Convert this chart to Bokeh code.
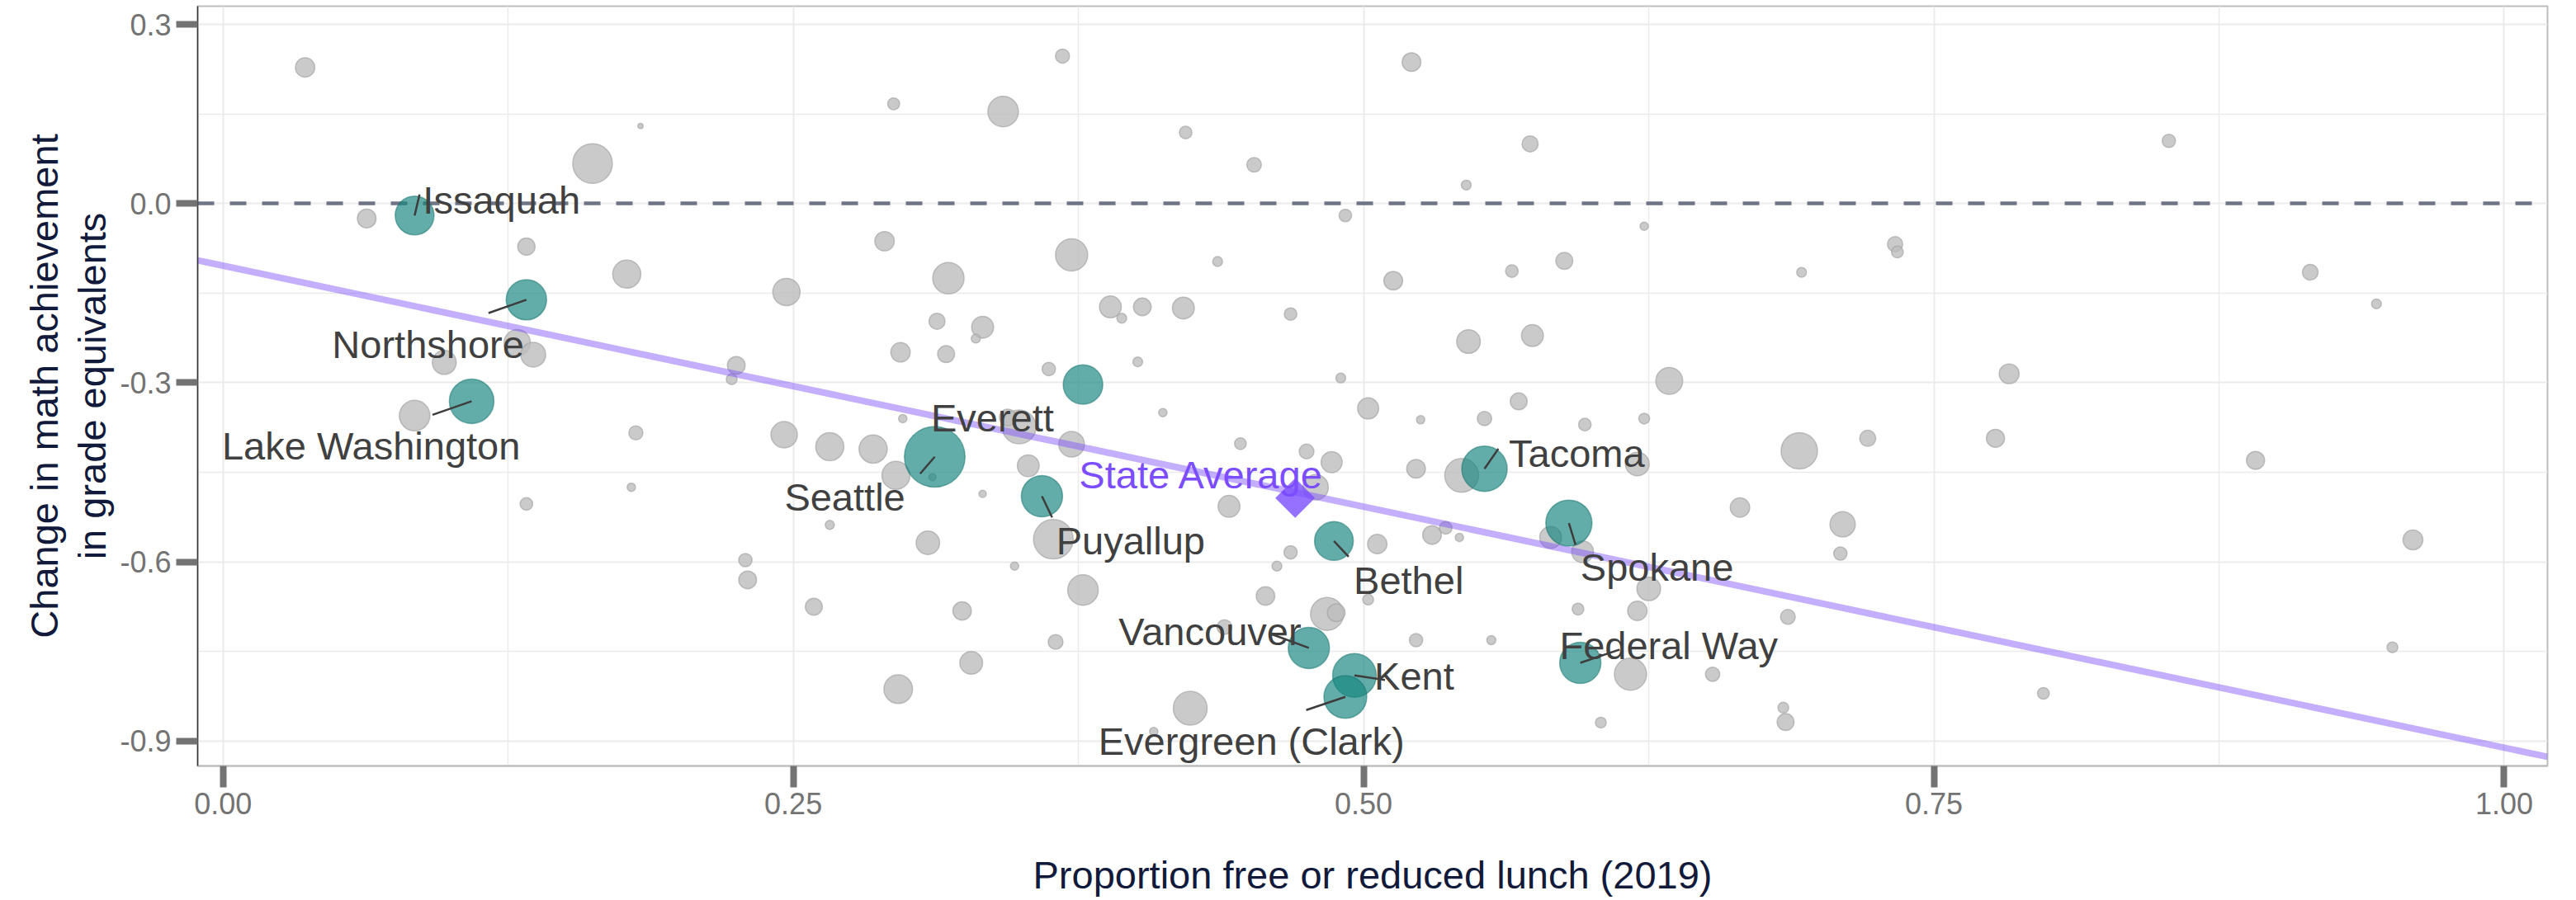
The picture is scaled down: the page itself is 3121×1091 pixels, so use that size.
import math
from bokeh.plotting import figure
from bokeh.models import FixedTicker, PrintfTickFormatter, Range1d, ColumnDataSource
from bokeh.core.properties import value
from bokeh.embed import file_html
from bokeh.resources import INLINE

# ---------------- data ----------------
# other districts: proportion FRL (2019), change in math (grade equivalents), enrollment (thousands)
frl = [0.036, 0.183, 0.162, 0.063, 0.133, 0.177, 0.129, 0.136, 0.097, 0.084,
       0.181, 0.179, 0.133, 0.368, 0.294, 0.342, 0.422, 0.452, 0.290, 0.372,
       0.436, 0.318, 0.247, 0.389, 0.394, 0.403, 0.421, 0.468, 0.313, 0.333,
       0.330, 0.297, 0.317, 0.401, 0.225, 0.223, 0.362, 0.412, 0.298, 0.349,
       0.344, 0.446, 0.372, 0.246, 0.266, 0.285, 0.295, 0.311, 0.333, 0.353,
       0.441, 0.364, 0.266, 0.309, 0.229, 0.230, 0.347, 0.468, 0.462, 0.377,
       0.259, 0.324, 0.457, 0.439, 0.365, 0.328, 0.296, 0.424, 0.408, 0.475,
       0.486, 0.479, 0.506, 0.523, 0.543, 0.620, 0.691, 0.721, 0.530, 0.536,
       0.542, 0.582, 0.596, 0.625, 0.665, 0.710, 0.709, 0.502, 0.484, 0.488,
       0.523, 0.556, 0.594, 0.620, 0.686, 0.617, 0.653, 0.604, 0.684, 0.685,
       0.521, 0.573, 0.545, 0.492, 0.623, 0.733, 0.734, 0.692, 0.565, 0.588,
       0.513, 0.546, 0.574, 0.634, 0.490, 0.502, 0.525, 0.553, 0.568, 0.597,
       0.623, 0.853, 0.915, 0.944, 0.783, 0.777, 0.891, 0.960, 0.951, 0.798]
change = [0.228, 0.130, 0.067, -0.025, -0.072, -0.118, -0.233, -0.253, -0.266, -0.355,
          -0.384, -0.475, -0.503, 0.247, 0.167, 0.154, 0.119, 0.065, -0.063, -0.086,
          -0.097, -0.125, -0.148, -0.173, -0.192, -0.173, -0.175, -0.185, -0.197, -0.207,
          -0.226, -0.249, -0.252, -0.265, -0.271, -0.294, -0.277, -0.350, -0.360, -0.374,
          -0.358, -0.402, -0.403, -0.387, -0.407, -0.411, -0.455, -0.458, -0.486, -0.439,
          -0.507, -0.562, -0.538, -0.568, -0.597, -0.630, -0.607, -0.584, -0.607, -0.647,
          -0.675, -0.682, -0.657, -0.709, -0.734, -0.769, -0.813, -0.845, -0.884, -0.415,
          -0.433, -0.475, -0.570, -0.444, -0.455, -0.436, -0.414, -0.393, -0.555, -0.543,
          -0.559, -0.559, -0.583, -0.645, -0.509, -0.537, -0.586, -0.663, -0.687, -0.685,
          -0.731, -0.731, -0.679, -0.682, -0.692, -0.788, -0.788, -0.869, -0.844, -0.868,
          0.237, 0.100, 0.031, -0.020, -0.038, -0.068, -0.081, -0.115, -0.113, -0.096,
          -0.129, -0.231, -0.221, -0.297, -0.292, -0.343, -0.362, -0.360, -0.331, -0.370,
          -0.360, 0.105, -0.115, -0.168, -0.285, -0.393, -0.430, -0.563, -0.743, -0.820]
enroll = [5.5, 0.4, 23.0, 5.1, 4.4, 11.6, 10.2, 9.0, 8.4, 13.7,
          2.9, 1.0, 2.3, 2.9, 2.1, 13.7, 2.3, 3.1, 5.5, 15.2,
          1.4, 14.4, 10.9, 7.0, 1.4, 4.6, 7.0, 2.3, 3.8, 7.0,
          1.2, 5.5, 4.2, 1.4, 4.6, 1.7, 2.6, 1.0, 1.0, 16.8,
          4.0, 2.0, 9.6, 10.2, 11.6, 11.6, 11.6, 0.8, 0.8, 7.0,
          7.0, 23.0, 1.2, 8.1, 2.6, 4.6, 1.0, 2.6, 1.4, 13.7,
          4.2, 5.0, 5.0, 3.2, 3.2, 7.6, 12.0, 16.8, 1.0, 3.2,
          6.5, 9.4, 5.5, 5.1, 16.8, 8.2, 19.4, 3.8, 5.1, 2.3,
          1.0, 7.0, 7.0, 8.2, 5.5, 9.4, 2.6, 1.7, 16.0, 4.6,
          2.6, 1.2, 2.0, 5.5, 3.2, 15.2, 3.0, 1.7, 1.7, 4.2,
          5.1, 3.8, 1.4, 2.3, 1.0, 3.4, 2.0, 1.4, 2.3, 4.2,
          5.1, 8.2, 7.0, 10.6, 1.4, 6.5, 1.0, 3.0, 4.2, 2.3,
          1.7, 2.6, 3.6, 1.4, 5.8, 4.8, 4.8, 5.8, 1.7, 2.0]

# highlighted (labelled) districts
hl_names = ["Issaquah", "Northshore", "Lake Washington", "Everett", "Seattle",
            "Puyallup", "Tacoma", "Bethel", "Spokane", "Vancouver",
            "Kent", "Evergreen (Clark)", "Federal Way"]
hl_frl = [0.084, 0.133, 0.109, 0.377, 0.312, 0.359, 0.553, 0.487, 0.590, 0.476,
          0.496, 0.492, 0.595]
hl_change = [-0.020, -0.161, -0.331, -0.303, -0.424, -0.490, -0.444, -0.565, -0.535, -0.744,
             -0.790, -0.826, -0.769]
hl_enroll = [22.1, 24.0, 29.2, 23.0, 54.0, 25.0, 30.3, 22.1, 31.4, 25.0,
             28.1, 27.0, 25.0]

state_label = "State Average"
state_frl = 0.470
state_change = -0.493

fit_intercept = -0.104
fit_slope = -0.807

x_ticks = [0.0, 0.25, 0.5, 0.75, 1.0]
x_minor = [0.125, 0.375, 0.625, 0.875]
y_ticks = [-0.9, -0.6, -0.3, 0.0, 0.3]
y_minor = [-0.75, -0.45, -0.15, 0.15]
x_title = "Proportion free or reduced lunch (2019)"
y_title = "Change in math achievement\nin grade equivalents"

# ---------------- layout / style ----------------
X0, X1 = -0.0111, 1.019
Y0, Y1 = -0.9416, 0.3305
FW, FH = 2847, 921
PXX = FW / (X1 - X0)
PXY = FH / (Y1 - Y0)
FONT = "Liberation Sans"

def diam(k):
    return 10.0 * math.sqrt(k)

# label placement (screen px offsets from point: text left/baseline) and leader-line ends
label_off = {
    "Issaquah": (10, -18.6, (6, -25.6)),
    "Northshore": (-235.4, 54.3, (-45.9, 16.1)),
    "Lake Washington": (-302.5, 54.4, (-47.4, 16.4)),
    "Everett": (-184.2, 40.4, None),
    "Seattle": (-182.1, 48.9, (-17.7, 20.5)),
    "Puyallup": (17.3, 53.7, (12.3, 25.7)),
    "Tacoma": (29.5, -18.7, (16.8, -24.2)),
    "Bethel": (23.9, 47.7, (17.8, 19.0)),
    "Spokane": (14.0, 53.2, (8.0, 26.3)),
    "Vancouver": (-230.4, -19.5, (-45.2, -16.7)),
    "Kent": (24.0, 1.0, (37.0, 5.6)),
    "Evergreen (Clark)": (-299.3, 53.7, (-47.4, 16.0)),
    "Federal Way": (-25.2, -20.9, (47.7, -16.2)),
}

p = figure(frame_width=FW, frame_height=FH,
           x_range=Range1d(X0, X1), y_range=Range1d(Y0, Y1),
           output_backend="svg", toolbar_location=None,
           min_border_left=239, min_border_right=19, min_border_top=7, min_border_bottom=147,
           background_fill_color="white", border_fill_color="white")

xt = FixedTicker(ticks=x_ticks, minor_ticks=x_minor)
yt = FixedTicker(ticks=y_ticks, minor_ticks=y_minor)
p.xaxis.ticker = xt
p.yaxis.ticker = yt
p.xgrid.ticker = xt
p.ygrid.ticker = yt
p.xaxis.formatter = PrintfTickFormatter(format="%.2f")
p.yaxis.formatter = PrintfTickFormatter(format="%.1f")

for g in (p.xgrid, p.ygrid):
    g.grid_line_color = "#ebebeb"
    g.grid_line_width = 2
    g.minor_grid_line_color = "#ebebeb"
    g.minor_grid_line_width = 1.5

for ax in (p.xaxis, p.yaxis):
    ax.major_tick_line_width = 8
    ax.major_tick_line_color = "#737373"
    ax.major_tick_out = 26
    ax.major_tick_in = 0
    ax.minor_tick_line_color = None
    ax.major_label_text_font = FONT
    ax.major_label_text_font_size = "36px"
    ax.major_label_text_color = "#737373"
    ax.major_label_standoff = 6
    ax.axis_label_text_font = FONT
    ax.axis_label_text_font_size = "47px"
    ax.axis_label_text_font_style = "normal"
    ax.axis_label_text_color = "#111a3a"
    ax.axis_label_text_line_height = 1.1

p.xaxis.axis_label = x_title
p.yaxis.axis_label = y_title
p.xaxis.axis_label_standoff = 44
p.yaxis.axis_label_standoff = 4
p.xaxis.axis_line_color = "#bdbdbd"
p.xaxis.axis_line_width = 2
p.yaxis.axis_line_color = "#333333"
p.yaxis.axis_line_width = 1.5
p.outline_line_color = "#bdbdbd"
p.outline_line_width = 2

# reference line at zero
p.hspan(y=[0.0], line_color="#6f7587", line_width=4.5, line_dash="20 19")

# other districts
src = ColumnDataSource(dict(x=frl, y=change, s=[diam(k) for k in enroll]))
p.scatter("x", "y", size="s", source=src, marker="circle",
          fill_color="#bdbdbd", fill_alpha=0.8, line_color="#a6a6a6", line_alpha=0.7, line_width=1.5)

# fitted line
lx = [X0, X1]
ly = [fit_intercept + fit_slope * v for v in lx]
p.line(lx, ly, line_color="#7c4dff", line_alpha=0.45, line_width=8)

# highlighted districts
hsrc = ColumnDataSource(dict(x=hl_frl, y=hl_change, s=[diam(k) for k in hl_enroll]))
p.scatter("x", "y", size="s", source=hsrc, marker="circle",
          fill_color="#188680", fill_alpha=0.68, line_color="#0f6f6a", line_alpha=0.5, line_width=1.5)

# leader lines
sx0, sy0, sx1, sy1 = [], [], [], []
for n, x, y in zip(hl_names, hl_frl, hl_change):
    seg = label_off[n][2]
    if seg is None:
        continue
    sx0.append(x); sy0.append(y)
    sx1.append(x + seg[0] / PXX); sy1.append(y - seg[1] / PXY)
p.segment(sx0, sy0, sx1, sy1, line_color="#3d3d3d", line_width=2.5)

# labels
p.text(x=hl_frl, y=hl_change, text=hl_names,
       x_offset=[label_off[n][0] for n in hl_names],
       y_offset=[label_off[n][1] for n in hl_names],
       text_font=value(FONT), text_font_size="47px", text_color="#404040",
       text_align="left", text_baseline="alphabetic")

# state average
p.scatter([state_frl], [state_change], marker="square", angle=math.pi / 4, size=34,
          fill_color="#7c4dff", fill_alpha=0.8, line_color=None)
p.text(x=[state_frl], y=[state_change], text=[state_label], x_offset=-261.8, y_offset=-28,
       text_font=value(FONT), text_font_size="47px", text_color="#7c4dff",
       text_align="left", text_baseline="alphabetic")

open("out.html", "w").write(file_html(p, INLINE))
